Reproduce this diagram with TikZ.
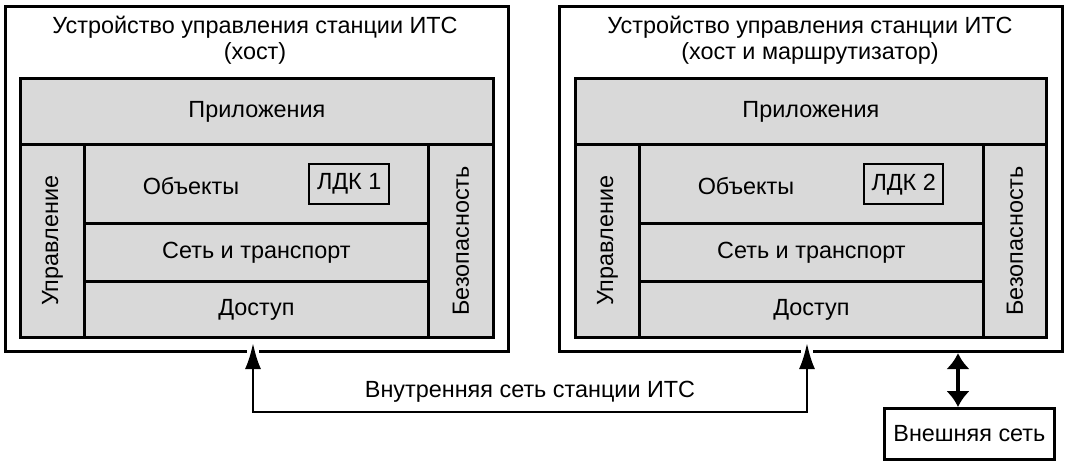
\documentclass[tikz,border=0pt]{standalone}
\usepackage{fontspec}
\setmainfont{Liberation Sans}
\usetikzlibrary{arrows.meta}

\tikzset{
    station/.style={draw, line width=1.6pt, anchor=north west, inner sep=0pt},
    layer/.style={draw, fill=gray!30, line width=1.4pt, anchor=north west, inner sep=0pt},
    ldkbox/.style={draw, fill=gray!30, line width=1.2pt, anchor=north west, inner sep=0pt},
    netbox/.style={draw, line width=1.4pt, anchor=north west, inner sep=0pt},
    lanarrow/.style={line width=1.3pt, {Latex[length=13pt,width=8pt]}-{Latex[length=13pt,width=8pt]},
        preaction={draw=white, line width=6pt, -}},
    wanarrow/.style={line width=2.4pt, {Latex[length=8pt,width=12pt]}-{Latex[length=8pt,width=12pt]}}
}

\begin{document}
\begin{tikzpicture}[x=0.5pt, y=-0.5pt, font=\fontsize{11.7}{13}\selectfont]
    \useasboundingbox (0,0) rectangle (1067,465);

    % host
    \node[station, minimum width=251.5pt, minimum height=172.5pt] (host1) at (4,5) {};
    \node[align=center] (title1) at (255,40) {Устройство управления станции ИТС\\(хост)};
    \node[layer, minimum width=236.5pt, minimum height=33pt] (app1) at (19,77) {Приложения};
    \node[layer, minimum width=32pt, minimum height=96.5pt] (mgmt1) at (19,143) {};
    \node[layer, minimum width=172pt, minimum height=39.5pt] (obj1) at (83,143) {};
    \node[layer, minimum width=172pt, minimum height=29pt] (net1) at (83,222) {Сеть и транспорт};
    \node[layer, minimum width=172pt, minimum height=28pt] (acc1) at (83,280) {Доступ};
    \node[layer, minimum width=32.5pt, minimum height=96.5pt] (sec1) at (427,143) {};
    \node[ldkbox, minimum width=40pt, minimum height=20pt] (ldk1) at (308,163) {ЛДК 1};
    \node (objtext1) at (191,186) {Объекты};
    \node[rotate=90] (mgmttext1) at (mgmt1.center) {Управление};
    \node[rotate=90] (sectext1) at (sec1.center) {Безопасность};

    % host and router
    \node[station, minimum width=251.5pt, minimum height=172.5pt] (host2) at (558,5) {};
    \node[align=center] (title2) at (810,40) {Устройство управления станции ИТС\\(хост и маршрутизатор)};
    \node[layer, minimum width=235.5pt, minimum height=33pt] (app2) at (574,77) {Приложения};
    \node[layer, minimum width=32pt, minimum height=96.5pt] (mgmt2) at (574,143) {};
    \node[layer, minimum width=172pt, minimum height=39.5pt] (obj2) at (638,143) {};
    \node[layer, minimum width=172pt, minimum height=29pt] (net2) at (638,222) {Сеть и транспорт};
    \node[layer, minimum width=172pt, minimum height=28pt] (acc2) at (638,280) {Доступ};
    \node[layer, minimum width=31.5pt, minimum height=96.5pt] (sec2) at (982,143) {};
    \node[ldkbox, minimum width=39.5pt, minimum height=20pt] (ldk2) at (863,163) {ЛДК 2};
    \node (objtext2) at (746,186) {Объекты};
    \node[rotate=90] (mgmttext2) at (mgmt2.center) {Управление};
    \node[rotate=90] (sectext2) at (sec2.center) {Безопасность};

    % networks
    \coordinate (lanL) at (253,343);
    \coordinate (lanR) at (807,343);
    \coordinate (lanbend) at (530,412);
    \node (lantext) at (530,392) {Внутренняя сеть станции ИТС};
    \draw[lanarrow] (lanL) |- (lanbend) -| (lanR);

    \node[netbox, minimum width=85pt, minimum height=25.5pt] (ext) at (883,407) {Внешняя сеть};
    \coordinate (extlink) at (958,380);
    \draw[wanarrow] (extlink |- host2.south) -- (extlink |- ext.north);
\end{tikzpicture}
\end{document}
